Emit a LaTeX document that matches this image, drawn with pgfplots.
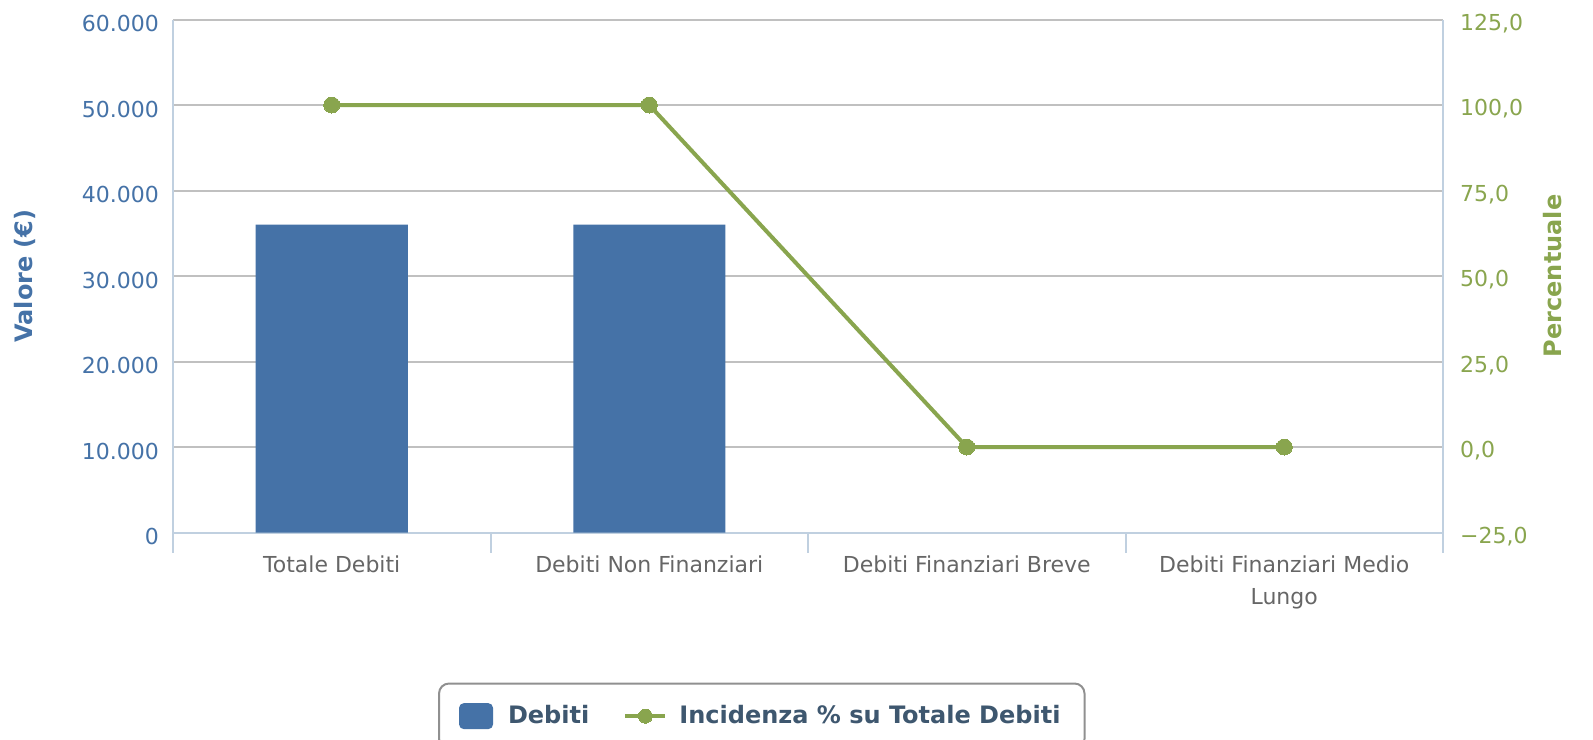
\documentclass[border=0pt]{standalone}
\usepackage{pgfplots}
\pgfplotsset{compat=1.18}
\usepackage{fontspec}
\setmainfont{DejaVu Sans}
\definecolor{barblue}{HTML}{4572A7}
\definecolor{linegreen}{HTML}{89A54E}
\definecolor{gridgray}{HTML}{C0C0C0}
\definecolor{axisblue}{HTML}{C0D0E0}
\definecolor{labelgray}{HTML}{666666}
\definecolor{legendtext}{HTML}{3E576F}
\definecolor{legendborder}{HTML}{909090}

\begin{document}
\begin{tikzpicture}
\path[use as bounding box] (-86.5pt,-103.5pt) rectangle (710pt,266.25pt);
% left axis: values in euro
\begin{axis}[
  scale only axis, width=635pt, height=256.5pt,
  xmin=-0.5, xmax=3.5, ymin=0, ymax=60000,
  scaled y ticks=false,
  axis x line*=bottom, axis y line*=left,
  axis line style={axisblue, line width=1pt},
  xtick={0,1,2,3},
  xticklabels={Totale Debiti, Debiti Non Finanziari, Debiti Finanziari Breve, {Debiti Finanziari Medio\\Lungo}},
  minor xtick={-0.5,0.5,1.5,2.5,3.5},
  major tick length=0pt, minor tick length=10pt, tick align=outside,
  minor tick style={axisblue, line width=1pt},
  xticklabel style={font=\fontsize{11}{16}\selectfont, text=labelgray, align=center, yshift=-8pt},
  ytick={0,10000,...,60000},
  yticklabels={0,10.000,20.000,30.000,40.000,50.000,60.000},
  yticklabel style={font=\fontsize{11}{13}\selectfont, text=barblue, xshift=-3.5pt, yshift=-2pt},
  ymajorgrids, major grid style={gridgray, line width=1pt},
  ylabel={Valore (€)},
  ylabel style={font=\bfseries\fontsize{12}{14}\selectfont, text=barblue, at={(axis description cs:-0.1165,0.5)}, anchor=center},
]
\addplot[ybar, bar width=76pt, fill=barblue, draw=none] coordinates {(0,36000) (1,36000)};
\end{axis}
% right axis: percentages
\begin{axis}[
  scale only axis, width=635pt, height=256.5pt,
  xmin=-0.5, xmax=3.5, ymin=-25, ymax=125,
  axis x line=none, axis y line*=right,
  axis line style={axisblue, line width=1pt},
  ytick={-25,0,25,50,75,100,125},
  yticklabels={{−25,0},{0,0},{25,0},{50,0},{75,0},{100,0},{125,0}},
  major tick length=0pt,
  yticklabel style={font=\fontsize{11}{13}\selectfont, text=linegreen, xshift=5pt, yshift=-2pt},
  ylabel={Percentuale},
  ylabel style={font=\bfseries\fontsize{12}{14}\selectfont, text=linegreen, at={(axis description cs:1.0866,0.5)}, anchor=center},
  legend columns=2, legend cell align=left,
  legend style={at={(axis description cs:0.2087,-0.2924)}, anchor=north west,
    draw=legendborder, line width=1pt, rounded corners=5pt,
    inner xsep=10pt, inner ysep=9pt,
    font=\bfseries\fontsize{12}{14}\selectfont, text=legendtext,
    /tikz/every odd column/.append style={column sep=4pt},
    /tikz/every even column/.append style={column sep=15pt}},
]
\addlegendimage{legend image code/.code={\fill[barblue, rounded corners=2pt] (0pt,-6pt) rectangle (16pt,6pt); \path[draw=none, fill=none] (0pt,0pt) rectangle (18pt,1pt);}}
\addlegendentry{Debiti}
\addplot[linegreen, line width=2pt, mark=*, mark size=4pt,
  mark options={fill=linegreen, draw=linegreen, line width=0pt},
  legend image code/.code={\draw[mark repeat=2, mark phase=2, mark size=3.5pt] plot coordinates {(0pt,0pt) (10pt,0pt) (20pt,0pt)};}]
  coordinates {(0,100) (1,100) (2,0) (3,0)};
\addlegendentry{Incidenza \% su Totale Debiti}
\end{axis}
\end{tikzpicture}
\end{document}
